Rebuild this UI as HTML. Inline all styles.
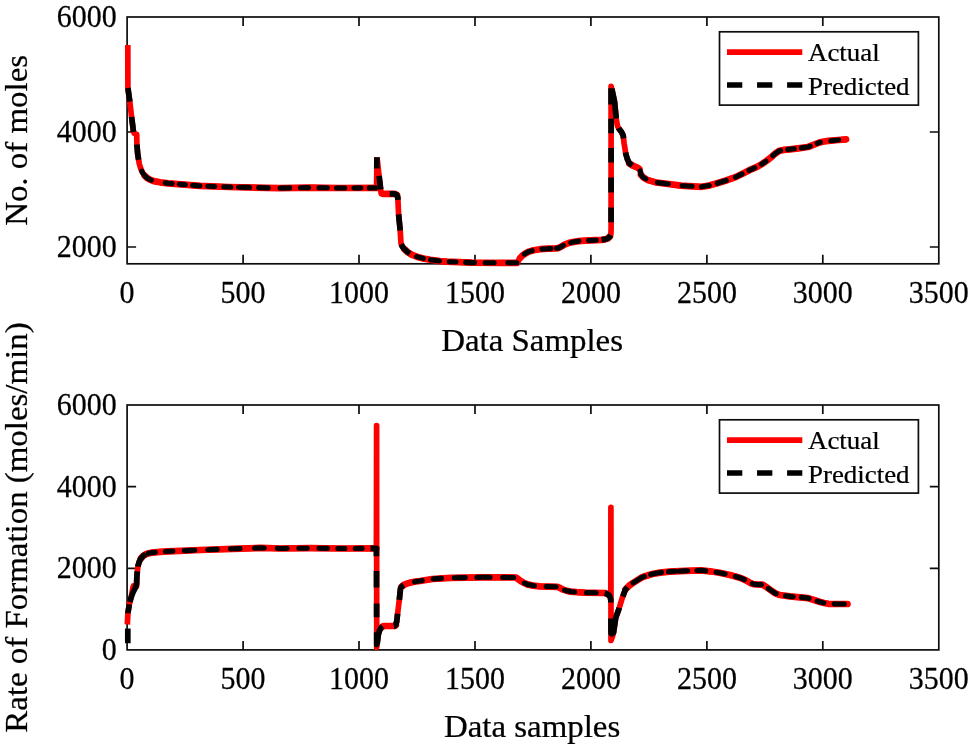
<!DOCTYPE html>
<html lang="en"><head><meta charset="utf-8"><title>Actual vs Predicted</title>
<style>html,body{margin:0;padding:0;background:#fff;}body{width:969px;height:745px;overflow:hidden;font-family:"Liberation Serif",serif;}svg text{white-space:pre;}</style>
</head><body>
<svg width="969" height="745" viewBox="0 0 969 745" style="display:block">
<rect width="969" height="745" fill="#fff"/>
<g font-family="'Liberation Serif', 'Times New Roman', serif" fill="#000" stroke="#000" stroke-width="0.25">
<rect x="127.1" y="17.0" width="811.7" height="246.8" fill="none" stroke="#0d0d0d" stroke-width="1.7"/>
<text transform="translate(127.1 302.8) scale(0.977 1)" font-size="30.7" text-anchor="middle">0</text>
<text transform="translate(243.1 302.8) scale(0.977 1)" font-size="30.7" text-anchor="middle">500</text>
<text transform="translate(359.0 302.8) scale(0.977 1)" font-size="30.7" text-anchor="middle">1000</text>
<text transform="translate(475.0 302.8) scale(0.977 1)" font-size="30.7" text-anchor="middle">1500</text>
<text transform="translate(590.9 302.8) scale(0.977 1)" font-size="30.7" text-anchor="middle">2000</text>
<text transform="translate(706.9 302.8) scale(0.977 1)" font-size="30.7" text-anchor="middle">2500</text>
<text transform="translate(822.8 302.8) scale(0.977 1)" font-size="30.7" text-anchor="middle">3000</text>
<text transform="translate(938.8 302.8) scale(0.977 1)" font-size="30.7" text-anchor="middle">3500</text>
<text transform="translate(116.8 26.9) scale(0.977 1)" font-size="30.7" text-anchor="end">6000</text>
<text transform="translate(116.8 141.9) scale(0.977 1)" font-size="30.7" text-anchor="end">4000</text>
<text transform="translate(116.8 256.9) scale(0.977 1)" font-size="30.7" text-anchor="end">2000</text>
<path d="M243.1 263.8 v-9 M243.1 17.0 v9 M359.0 263.8 v-9 M359.0 17.0 v9 M475.0 263.8 v-9 M475.0 17.0 v9 M590.9 263.8 v-9 M590.9 17.0 v9 M706.9 263.8 v-9 M706.9 17.0 v9 M822.8 263.8 v-9 M822.8 17.0 v9 M127.1 132.0 h9 M938.8 132.0 h-9 M127.1 247.0 h9 M938.8 247.0 h-9" stroke="#0d0d0d" stroke-width="1.7" fill="none"/>
<text transform="translate(532.1 351.2) scale(1.045 1)" font-size="31.5" text-anchor="middle">Data Samples</text>
<text transform="translate(27.3 140.4) rotate(-90) scale(1.045 1)" font-size="31.5" text-anchor="middle">No. of moles</text>
<path d="M127.8 45.0 L127.9 88.0 L129.7 100.9 L131.6 117.0 L133.5 131.8 L134.5 133.6 L136.7 134.2 L136.9 144.4 L137.7 154.0 L139.3 163.7 L140.7 168.5 L142.5 172.6 L144.8 175.8 L147.4 178.2 L150.4 179.9 L153.8 181.1 L160.0 182.3 L168.3 183.3 L184.4 184.6 L200.0 185.9 L228.8 187.0 L279.5 188.1 L310.0 187.6 L340.0 188.0 L376.6 187.9 L376.9 157.3 M376.9 157.3 L377.3 160.0 L378.6 172.0 L380.4 187.0 L380.9 191.5 L381.8 193.5 L383.5 193.9 L395.0 193.9 L396.9 195.0 L397.8 197.5 L398.6 214.4 L400.2 230.5 L401.0 243.4 L402.3 246.5 L404.3 249.0 L407.5 252.0 L411.5 254.6 L417.5 256.9 L424.4 258.7 L430.3 259.8 L440.0 261.1 L446.8 261.7 L471.6 262.6 L502.6 262.8 L517.0 262.8 L518.6 260.5 L520.1 258.0 L522.5 255.5 L525.3 253.5 L529.0 251.6 L533.5 250.2 L540.0 249.2 L548.0 248.7 L555.0 248.5 L558.3 248.1 L561.5 246.5 L564.5 244.6 L568.5 243.1 L572.7 242.1 L578.0 241.2 L585.1 240.7 L601.6 239.9 L605.0 239.4 L607.8 238.4 L609.8 236.6 L610.9 234.3 L611.1 228.0 L611.1 86.3 L612.3 91.0 L614.5 101.4 L616.2 118.9 L617.5 126.0 L618.8 128.5 L621.5 132.0 L623.2 135.5 L624.1 143.4 L625.8 153.8 L627.3 159.0 L629.3 163.4 L632.8 165.7 L637.2 167.5 L639.2 168.8 L640.1 170.4 L641.0 174.8 L643.3 177.4 L647.6 180.0 L651.4 181.1 L656.4 182.5 L662.7 183.3 L680.9 185.6 L701.3 186.8 L709.0 185.6 L717.2 183.3 L726.0 180.5 L735.4 177.2 L743.0 173.5 L751.2 169.3 L757.0 166.8 L762.6 163.6 L767.0 160.5 L771.7 156.8 L775.5 153.3 L779.6 150.7 L784.0 149.9 L789.8 149.3 L800.0 148.1 L808.0 147.0 L814.0 144.7 L819.4 142.5 L824.0 141.5 L828.4 140.9 L838.0 140.0 L846.0 139.3" fill="none" stroke="#fe0000" stroke-width="5.7" stroke-linejoin="round" stroke-linecap="butt"/>
<path d="M144.8 175.8 L147.4 178.2 L150.4 179.9 L153.8 181.1 L160.0 182.3 L168.3 183.3 L184.4 184.6 L200.0 185.9 L228.8 187.0 L279.5 188.1 L310.0 187.6 L340.0 188.0 L376.6 187.9 M381.8 193.5 L383.5 193.9 L395.0 193.9 L396.9 195.0 M404.3 249.0 L407.5 252.0 L411.5 254.6 L417.5 256.9 L424.4 258.7 L430.3 259.8 L440.0 261.1 L446.8 261.7 L471.6 262.6 L502.6 262.8 L517.0 262.8 M520.1 258.0 L522.5 255.5 L525.3 253.5 L529.0 251.6 L533.5 250.2 L540.0 249.2 L548.0 248.7 L555.0 248.5 L558.3 248.1 L561.5 246.5 L564.5 244.6 L568.5 243.1 L572.7 242.1 L578.0 241.2 L585.1 240.7 L601.6 239.9 L605.0 239.4 L607.8 238.4 L609.8 236.6 M629.3 163.4 L632.8 165.7 L637.2 167.5 L639.2 168.8 M641.0 174.8 L643.3 177.4 L647.6 180.0 L651.4 181.1 L656.4 182.5 L662.7 183.3 L680.9 185.6 L701.3 186.8 L709.0 185.6 L717.2 183.3 L726.0 180.5 L735.4 177.2 L743.0 173.5 L751.2 169.3 L757.0 166.8 L762.6 163.6 L767.0 160.5 L771.7 156.8 L775.5 153.3 L779.6 150.7 L784.0 149.9 L789.8 149.3 L800.0 148.1 L808.0 147.0 L814.0 144.7 L819.4 142.5 L824.0 141.5 L828.4 140.9 L838.0 140.0 L846.0 139.3" fill="none" stroke="#fe0000" stroke-width="6.7" stroke-linejoin="round" stroke-linecap="round"/>
<path d="M127.9 88.0 L129.7 100.9 L129.8 101.7 M131.6 117.0 L133.5 131.8 M136.9 144.4 L137.7 154.0 L138.6 159.7 M376.8 168.5 L376.9 157.3 M379.1 175.8 L380.4 187.0 L380.7 189.4 M389.8 193.9 L395.0 193.9 L396.9 195.0 L397.8 197.5 L397.9 199.9 M398.6 214.4 L400.2 230.5 M401.3 244.2 L402.3 246.5 L404.3 249.0 L407.5 252.0 L409.9 253.6 M601.6 239.9 L605.0 239.4 L607.8 238.4 L609.8 236.6 L610.6 235.0 M611.1 222.2 L611.1 207.6 M611.1 192.6 L611.1 177.6 M611.1 162.5 L611.1 148.0 M611.1 133.2 L611.1 118.7 M611.1 104.4 L611.1 88.3 M611.8 89.0 L612.3 91.0 L614.5 101.4 L616.2 118.5 M618.5 127.9 L618.8 128.5 L621.5 132.0 L623.2 135.5 L623.5 138.4 M625.6 152.5 L625.8 153.8 L627.3 159.0 L629.3 163.4 L632.3 165.4" fill="none" stroke="#000" stroke-width="5.7" stroke-linejoin="round" stroke-linecap="butt"/>
<path d="M141.9 171.2 L142.5 172.6 L144.8 175.8 L147.4 178.2 L150.4 179.9 L151.3 180.2 M165.2 182.9 L168.3 183.3 L172.2 183.6 M179.3 184.2 L184.4 184.6 L185.3 184.7 M192.7 185.3 L199.9 185.9 M207.7 186.2 L214.7 186.5 M223.8 186.8 L228.8 187.0 L230.8 187.0 M238.5 187.2 L249.5 187.4 M258.6 187.6 L268.3 187.9 M280.1 188.1 L289.8 187.9 M300.2 187.8 L308.6 187.6 M319.0 187.7 L327.3 187.8 M336.5 188.0 L340.0 188.0 L344.8 188.0 M353.9 188.0 L360.9 187.9 M369.2 187.9 L375.4 187.9 M416.7 256.6 L417.5 256.9 L423.2 258.4 M430.5 259.8 L439.4 261.0 M449.1 261.8 L456.0 262.0 M465.6 262.4 L471.6 262.6 L474.5 262.6 M485.2 262.7 L494.1 262.7 M507.9 262.8 L516.8 262.8 M524.4 254.1 L525.3 253.5 L529.0 251.6 L532.3 250.6 M541.9 249.1 L548.0 248.7 L550.9 248.6 M556.4 248.3 L558.3 248.1 L561.5 246.5 L563.3 245.4 M570.8 242.6 L572.7 242.1 L578.0 241.2 L578.8 241.1 M588.4 240.5 L596.3 240.2 M640.2 170.9 L641.0 174.8 L643.3 177.4 L645.8 178.9 M657.4 182.6 L662.7 183.3 L668.3 184.0 M682.1 185.7 L692.2 186.3 M701.4 186.8 L709.0 185.6 L709.2 185.5 M717.3 183.3 L726.0 180.5 L726.2 180.4 M735.4 177.2 L742.1 173.9 M749.0 170.4 L751.2 169.3 L754.6 167.8 M761.5 164.2 L762.6 163.6 L765.9 161.3 M772.9 155.7 L775.5 153.3 L779.6 150.7 L780.7 150.5 M787.6 149.5 L789.8 149.3 L794.3 148.8 M801.3 147.9 L808.0 147.0 L810.2 146.2 M817.2 143.4 L819.4 142.5 L820.4 142.3 M830.8 140.7 L838.0 140.0 L838.6 139.9" fill="none" stroke="#000" stroke-width="5.1" stroke-linejoin="round" stroke-linecap="round"/>
<rect x="719.5" y="31.8" width="198.9" height="73.3" fill="#fff" stroke="#0d0d0d" stroke-width="1.7"/>
<path d="M727 52.1 H802.3" stroke="#fe0000" stroke-width="5.7" fill="none"/>
<path d="M727 85.0 H802.3" stroke="#000" stroke-width="5.7" stroke-dasharray="15.3 14.75" fill="none"/>
<text transform="translate(808 61.3) scale(1.055 1)" font-size="25.5">Actual</text>
<text transform="translate(808 94.6) scale(1.055 1)" font-size="25.5">Predicted</text>
<rect x="127.1" y="405.0" width="811.7" height="244.9" fill="none" stroke="#0d0d0d" stroke-width="1.7"/>
<text transform="translate(127.1 688.9) scale(0.977 1)" font-size="30.7" text-anchor="middle">0</text>
<text transform="translate(243.1 688.9) scale(0.977 1)" font-size="30.7" text-anchor="middle">500</text>
<text transform="translate(359.0 688.9) scale(0.977 1)" font-size="30.7" text-anchor="middle">1000</text>
<text transform="translate(475.0 688.9) scale(0.977 1)" font-size="30.7" text-anchor="middle">1500</text>
<text transform="translate(590.9 688.9) scale(0.977 1)" font-size="30.7" text-anchor="middle">2000</text>
<text transform="translate(706.9 688.9) scale(0.977 1)" font-size="30.7" text-anchor="middle">2500</text>
<text transform="translate(822.8 688.9) scale(0.977 1)" font-size="30.7" text-anchor="middle">3000</text>
<text transform="translate(938.8 688.9) scale(0.977 1)" font-size="30.7" text-anchor="middle">3500</text>
<text transform="translate(116.8 414.9) scale(0.977 1)" font-size="30.7" text-anchor="end">6000</text>
<text transform="translate(116.8 496.5) scale(0.977 1)" font-size="30.7" text-anchor="end">4000</text>
<text transform="translate(116.8 578.2) scale(0.977 1)" font-size="30.7" text-anchor="end">2000</text>
<text transform="translate(116.8 659.8) scale(0.977 1)" font-size="30.7" text-anchor="end">0</text>
<path d="M243.1 649.9 v-9 M243.1 405.0 v9 M359.0 649.9 v-9 M359.0 405.0 v9 M475.0 649.9 v-9 M475.0 405.0 v9 M590.9 649.9 v-9 M590.9 405.0 v9 M706.9 649.9 v-9 M706.9 405.0 v9 M822.8 649.9 v-9 M822.8 405.0 v9 M127.1 486.6 h9 M938.8 486.6 h-9 M127.1 568.3 h9 M938.8 568.3 h-9" stroke="#0d0d0d" stroke-width="1.7" fill="none"/>
<text transform="translate(532.1 737.3) scale(1.045 1)" font-size="31.5" text-anchor="middle">Data samples</text>
<text transform="translate(27.3 527.5) rotate(-90) scale(1.045 1)" font-size="31.5" text-anchor="middle">Rate of Formation (moles/min)</text>
<path d="M127.3 624.5 L128.0 612.4 L129.2 605.0 L130.5 599.6 L131.8 594.0 L132.8 588.2 L133.4 585.9 L136.6 586.2 L136.9 575.4 L138.0 565.8 L139.3 561.6 L140.9 558.5 L143.2 555.9 L145.8 554.2 L148.8 553.2 L152.2 552.6 L160.0 551.8 L168.3 551.3 L200.0 550.0 L232.8 548.8 L261.0 547.9 L280.0 548.5 L310.0 548.2 L340.0 548.5 L376.4 548.4 L376.6 425.5 L376.7 647.5 L377.4 642.0 L378.3 634.8 L379.5 630.5 L381.0 627.8 L382.7 626.5 L384.5 626.0 L394.5 626.0 L395.8 625.0 L396.8 621.0 L397.6 613.8 L399.3 599.9 L400.5 588.5 L401.5 586.8 L403.0 585.5 L405.4 584.1 L410.0 582.6 L415.9 581.5 L420.0 581.0 L432.4 579.0 L451.0 577.8 L481.9 577.3 L516.0 577.5 L518.0 579.0 L520.1 580.6 L523.5 582.7 L527.3 584.4 L533.0 585.6 L539.7 586.4 L557.3 586.8 L559.8 587.9 L562.4 589.3 L566.5 590.7 L570.7 591.6 L577.0 592.2 L585.1 592.6 L604.7 593.0 L607.0 593.8 L608.9 595.1 L610.2 597.0 L610.8 600.0 L610.9 507.4 L611.0 640.5 L612.3 637.0 L613.6 632.4 L615.8 617.4 L619.0 608.8 L622.2 598.1 L625.4 589.5 L629.0 585.8 L632.9 583.0 L641.5 577.7 L645.0 576.2 L652.3 574.0 L660.0 572.6 L669.5 571.6 L685.0 570.9 L701.3 570.4 L710.0 571.3 L719.5 572.7 L730.0 575.0 L739.9 577.7 L746.0 580.4 L751.0 583.3 L753.5 584.1 L757.0 584.5 L762.6 584.6 L767.0 587.5 L771.7 590.9 L775.5 593.3 L779.6 595.0 L790.0 596.4 L800.0 597.3 L808.0 598.1 L814.0 600.0 L819.4 601.8 L824.0 603.0 L828.4 603.8 L838.0 604.0 L847.5 604.0" fill="none" stroke="#fe0000" stroke-width="5.7" stroke-linejoin="round" stroke-linecap="butt"/>
<path d="M140.9 558.5 L143.2 555.9 L145.8 554.2 L148.8 553.2 L152.2 552.6 L160.0 551.8 L168.3 551.3 L200.0 550.0 L232.8 548.8 L261.0 547.9 L280.0 548.5 L310.0 548.2 L340.0 548.5 L376.4 548.4 M381.0 627.8 L382.7 626.5 L384.5 626.0 L394.5 626.0 L395.8 625.0 M401.5 586.8 L403.0 585.5 L405.4 584.1 L410.0 582.6 L415.9 581.5 L420.0 581.0 L432.4 579.0 L451.0 577.8 L481.9 577.3 L516.0 577.5 L518.0 579.0 L520.1 580.6 L523.5 582.7 L527.3 584.4 L533.0 585.6 L539.7 586.4 L557.3 586.8 L559.8 587.9 L562.4 589.3 L566.5 590.7 L570.7 591.6 L577.0 592.2 L585.1 592.6 L604.7 593.0 L607.0 593.8 L608.9 595.1 M625.4 589.5 L629.0 585.8 L632.9 583.0 L641.5 577.7 L645.0 576.2 L652.3 574.0 L660.0 572.6 L669.5 571.6 L685.0 570.9 L701.3 570.4 L710.0 571.3 L719.5 572.7 L730.0 575.0 L739.9 577.7 L746.0 580.4 L751.0 583.3 L753.5 584.1 L757.0 584.5 L762.6 584.6 L767.0 587.5 L771.7 590.9 L775.5 593.3 L779.6 595.0 L790.0 596.4 L800.0 597.3 L808.0 598.1 L814.0 600.0 L819.4 601.8 L824.0 603.0 L828.4 603.8 L838.0 604.0 L847.5 604.0" fill="none" stroke="#fe0000" stroke-width="6.7" stroke-linejoin="round" stroke-linecap="round"/>
<path d="M127.8 643.3 L127.8 628.6 M128.0 613.2 L128.0 612.4 L129.2 605.0 L129.3 604.4 M129.9 602.0 L130.5 599.6 L131.8 595.5 L133.5 591.5 L135.3 588.0 L136.6 584.0 L136.9 575.4 L137.4 571.4 M137.9 566.6 L138.0 565.8 L139.3 561.6 L140.9 558.5 L143.2 555.9 L145.8 554.2 M370.5 548.4 L376.4 548.4 L376.4 556.2 M376.5 571.0 L376.5 587.6 M376.6 603.4 L376.6 617.3 M376.7 632.2 L376.7 644.5 L377.4 642.0 L378.3 634.8 L379.5 630.5 L381.0 627.8 L382.7 626.5 M394.0 626.0 L394.5 626.0 L395.8 625.0 L396.8 621.0 L397.6 613.8 M399.3 599.9 L400.5 588.5 L401.5 586.8 L403.0 585.5 L403.7 585.1 M604.7 593.0 L607.0 593.8 L608.9 595.1 L610.2 597.0 L610.8 600.0 L610.8 602.4 M610.9 618.5 L611.0 633.5 L612.2 633.8 L613.6 632.4 L615.8 617.4 L619.0 608.8 L619.3 607.7 M622.8 596.5 L625.4 589.5 L627.5 587.3" fill="none" stroke="#000" stroke-width="5.7" stroke-linejoin="round" stroke-linecap="butt"/>
<path d="M148.2 553.4 L148.8 553.2 L152.2 552.6 L155.3 552.3 M165.4 551.5 L168.3 551.3 L172.9 551.1 M184.2 550.6 L194.8 550.2 M207.7 549.7 L217.3 549.4 M230.5 548.9 L232.8 548.8 L240.1 548.6 M254.6 548.1 L261.0 547.9 L264.3 548.0 M277.4 548.4 L280.0 548.5 L287.1 548.4 M298.9 548.3 L307.2 548.2 M319.0 548.3 L327.3 548.4 M337.8 548.5 L340.0 548.5 L344.8 548.5 M355.2 548.5 L362.2 548.4 M414.5 581.8 L415.9 581.5 L420.0 581.0 L422.3 580.6 M433.2 578.9 L441.5 578.4 M454.2 577.7 L465.2 577.6 M476.9 577.4 L481.9 577.3 L490.0 577.3 M502.7 577.4 L513.7 577.5 M524.4 583.1 L527.3 584.4 L533.0 585.6 L534.4 585.8 M546.1 586.5 L556.1 586.8 M564.6 590.1 L566.5 590.7 L570.7 591.6 L574.6 592.0 M586.3 592.6 L596.3 592.8 M633.1 582.9 L641.5 577.7 L644.3 576.5 M650.7 574.5 L652.3 574.0 L660.0 572.6 L661.5 572.4 M668.4 571.7 L669.5 571.6 L675.1 571.3 M679.0 571.2 L685.0 570.9 L687.6 570.8 M696.8 570.5 L701.3 570.4 L705.8 570.9 M716.1 572.2 L719.5 572.7 L725.1 573.9 M735.4 576.5 L739.9 577.7 L744.4 579.7 M752.4 583.7 L753.5 584.1 L757.0 584.5 L761.4 584.6 M768.3 588.4 L771.7 590.9 L775.5 593.3 L776.2 593.6 M785.4 595.8 L790.0 596.4 L793.2 596.7 M801.3 597.4 L808.0 598.1 L809.1 598.4 M817.2 601.1 L819.4 601.8 L823.8 602.9 M834.2 603.9 L838.0 604.0 L844.3 604.0" fill="none" stroke="#000" stroke-width="5.1" stroke-linejoin="round" stroke-linecap="round"/>
<rect x="719.5" y="419.8" width="198.9" height="73.3" fill="#fff" stroke="#0d0d0d" stroke-width="1.7"/>
<path d="M727 440.1 H802.3" stroke="#fe0000" stroke-width="5.7" fill="none"/>
<path d="M727 473.0 H802.3" stroke="#000" stroke-width="5.7" stroke-dasharray="15.3 14.75" fill="none"/>
<text transform="translate(808 449.3) scale(1.055 1)" font-size="25.5">Actual</text>
<text transform="translate(808 482.6) scale(1.055 1)" font-size="25.5">Predicted</text>
</g></svg>
</body></html>
